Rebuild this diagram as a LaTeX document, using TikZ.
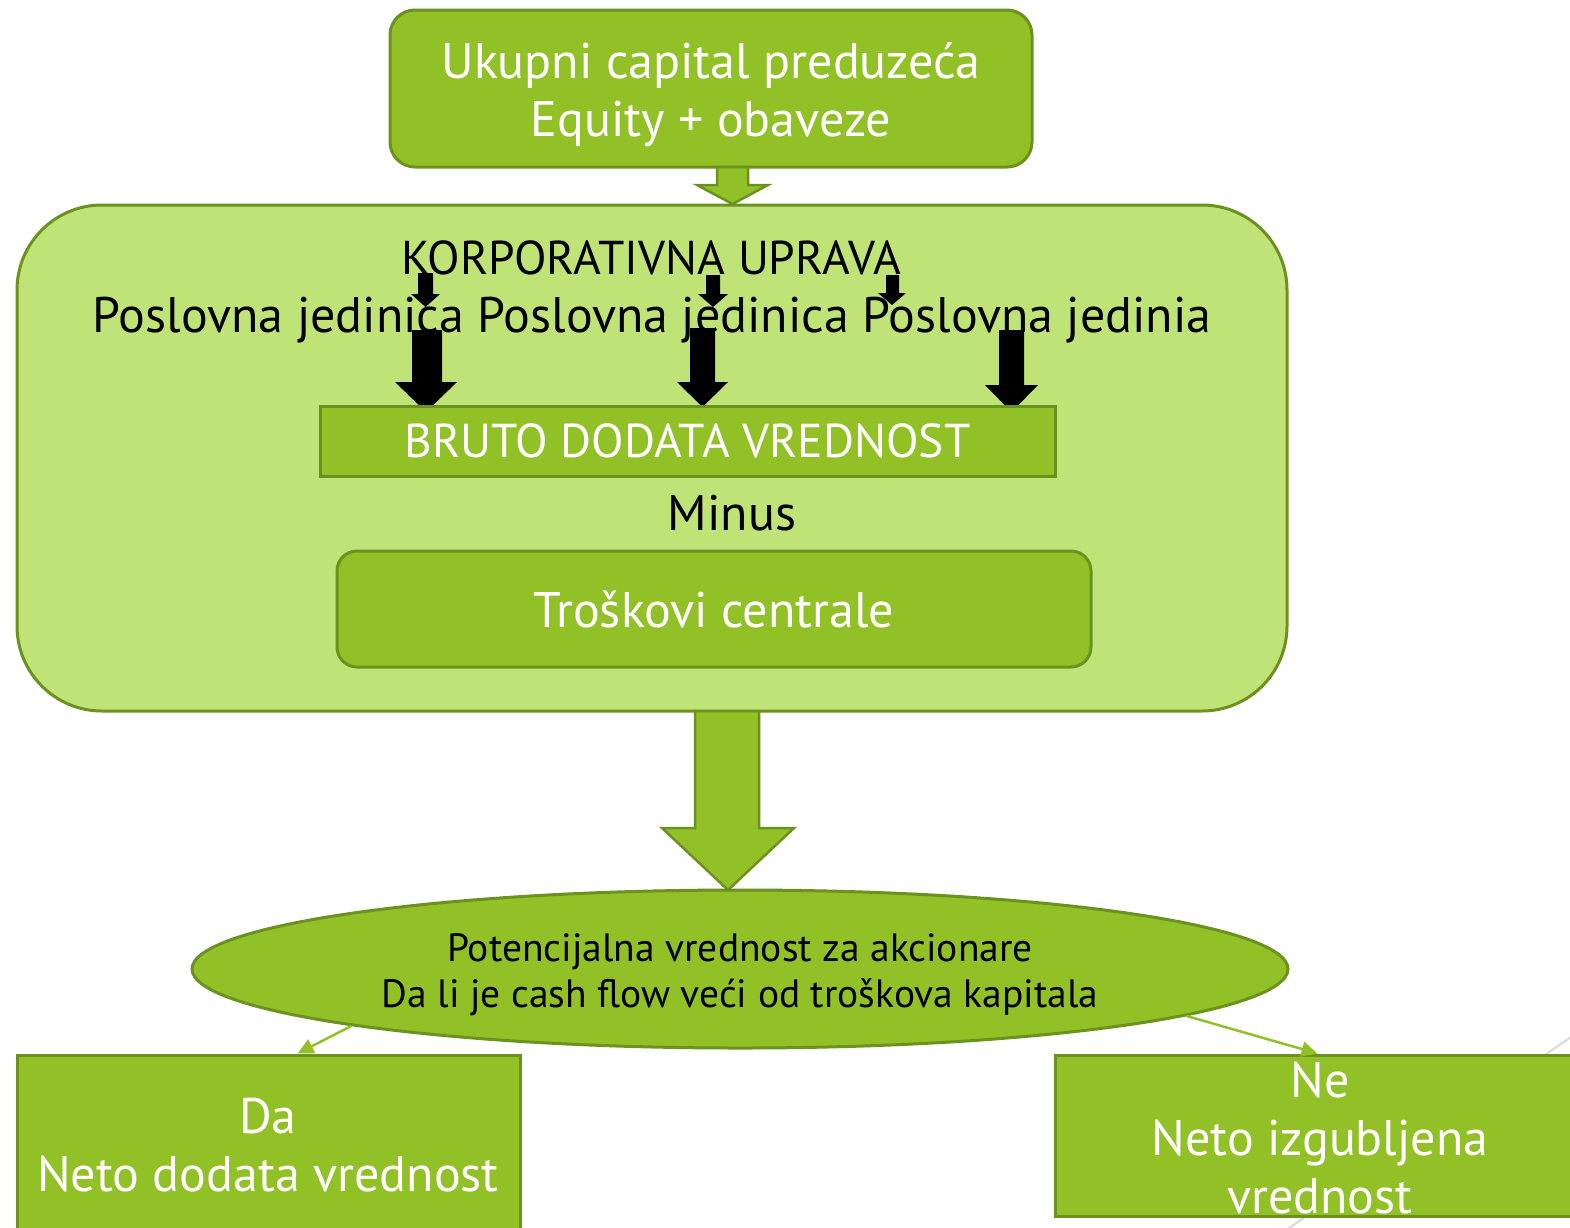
\documentclass[tikz,border=0pt]{standalone}
\usepackage{fontspec}
\setmainfont{PT Sans}
\usetikzlibrary{shapes.geometric,arrows.meta,calc}
\definecolor{gdark}{HTML}{92C127}
\definecolor{glight}{HTML}{C0E378}
\definecolor{gline}{HTML}{6B921E}
\begin{document}
\begin{tikzpicture}[x=1pt,y=-1pt,
  bigtxt/.style={font=\fontsize{50}{58}\selectfont},
  captxt/.style={font=\fontsize{47.5}{58}\selectfont},
  smalltxt/.style={font=\fontsize{39.5}{46}\selectfont},
  darkbox/.style={draw=gline,fill=gdark,line width=3pt,text=white,align=center,inner sep=0pt},
  blockarrow/.style={draw=gline,fill=gdark,line width=2.5pt,line join=miter},
  blackarrow/.style={fill=black},
  thinarrow/.style={draw=gdark,line width=2.5pt,-{Triangle[length=16pt,width=15pt]}}]
\clip (0,0) rectangle (1570,1227);
\fill[white] (0,0) rectangle (1570,1227);
% background decoration line
\draw[black!15,line width=2pt] (1580,1031) -- (1280,1234);
% top box
\node[darkbox,rounded corners=25pt,minimum width=642pt,minimum height=157pt] (top) at (711,88.5) {};
\node[bigtxt,text=white,align=center,inner sep=0pt] (toptxt) at (711,95) {Ukupni capital preduzeća\\Equity + obaveze};
% small block arrow
\draw[blockarrow] (717,167) -- (748,167) -- (748,185) -- (768,185) -- (732.5,204) -- (697,185) -- (717,185) -- cycle;
% big container
\node[draw=gline,fill=glight,line width=3pt,rounded corners=85pt,minimum width=1270pt,minimum height=506pt] (big) at (652,458) {};
\node[captxt,inner sep=0pt] (korp) at (651,258) {KORPORATIVNA UPRAVA};
\node[bigtxt,inner sep=0pt] (posl) at (652,320) {Poslovna jedinica Poslovna jedinica Poslovna jedinia};
% small black arrows
\fill[blackarrow] (418,273) -- (433,273) -- (433,294) -- (440,294) -- (425.5,307) -- (411,294) -- (418,294) -- cycle;
\fill[blackarrow] (706,275) -- (720,275) -- (720,294) -- (728,294) -- (713,307) -- (698,294) -- (706,294) -- cycle;
\fill[blackarrow] (886,275) -- (899,275) -- (899,293) -- (906,293) -- (892,305) -- (878,293) -- (886,293) -- cycle;
% big black arrows
\fill[blackarrow] (412,330) -- (442,330) -- (442,382) -- (457,382) -- (426,412) -- (395,382) -- (412,382) -- cycle;
\fill[blackarrow] (690,328) -- (715,328) -- (715,382) -- (728,382) -- (702.5,407) -- (677,382) -- (690,382) -- cycle;
\fill[blackarrow] (999,330) -- (1024,330) -- (1024,385) -- (1038,385) -- (1011.5,412) -- (985,385) -- (999,385) -- cycle;
% bruto box
\node[darkbox,captxt,minimum width=735pt,minimum height=70pt] (bruto) at (687.5,441) {BRUTO DODATA VREDNOST};
\node[bigtxt,inner sep=0pt] (minus) at (732,513) {Minus};
\node[darkbox,bigtxt,rounded corners=20pt,minimum width=754pt,minimum height=116pt] (tros) at (714,609) {Troškovi centrale};
% big block arrow
\draw[blockarrow] (695,711) -- (759,711) -- (759,828) -- (794,828) -- (728,890) -- (662,828) -- (695,828) -- cycle;
% ellipse
\node[ellipse,draw=gline,fill=gdark,line width=3pt,minimum width=1096pt,minimum height=158pt,inner sep=0pt] (ell) at (740,969) {};
\node[smalltxt,align=center,inner sep=0pt] (elltxt) at (740,975)
  {Potencijalna vrednost za akcionare\\Da li je cash flow veći od troškova kapitala};
% bottom boxes
\node[darkbox,minimum width=503pt,minimum height=178pt] (da) at (268.5,1144) {};
\node[bigtxt,text=white,align=center,inner sep=0pt] (datxt) at (268,1145) {Da\\Neto dodata vrednost};
\node[darkbox,minimum width=525pt,minimum height=161pt] (ne) at (1317.5,1135.5) {};
\node[bigtxt,text=white,align=center,inner sep=0pt] (netxt) at (1320,1138) {Ne\\Neto izgubljena\\vrednost};
% thin arrows
\draw[thinarrow] (ell.south west) -- ($(da.north)+(29,0)$);
\draw[thinarrow] (ell.-6) -- (ne.north);
\end{tikzpicture}
\end{document}
